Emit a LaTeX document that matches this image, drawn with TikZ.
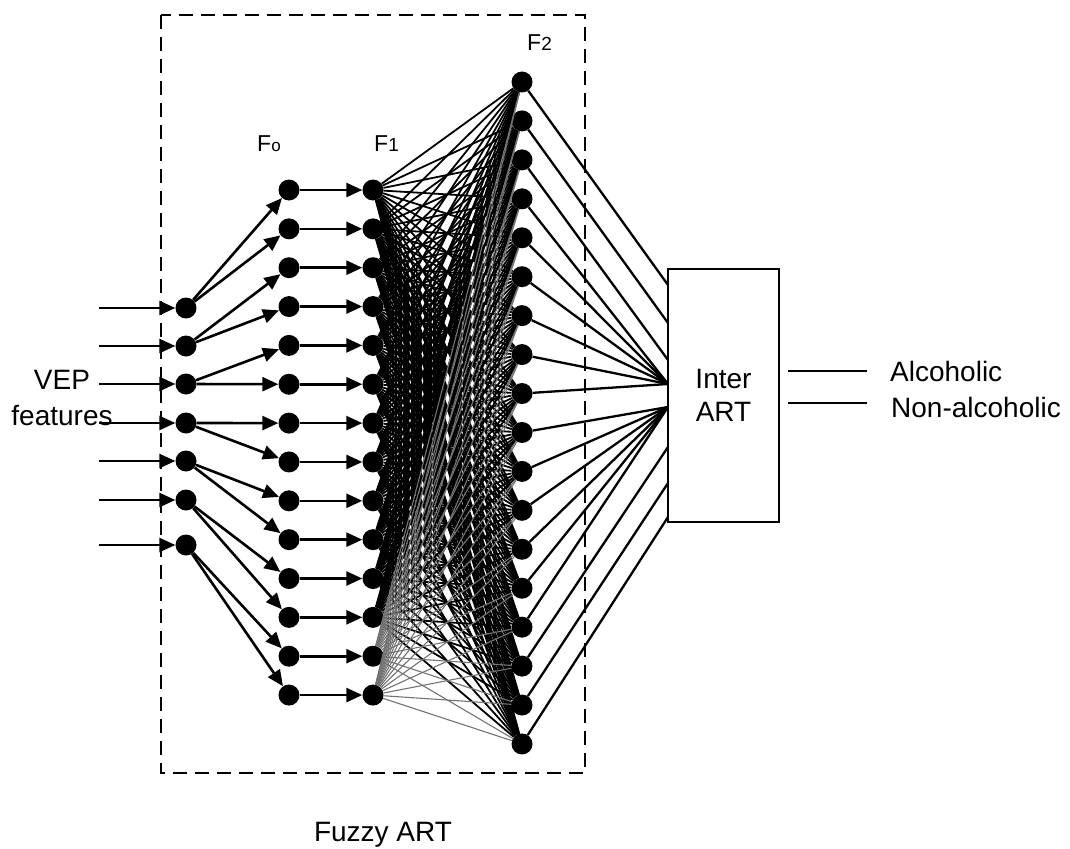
\documentclass[tikz,border=0pt]{standalone}
\usepackage{fontspec}
\setmainfont{Liberation Sans}
\usetikzlibrary{arrows.meta,calc}
\begin{document}
\begin{tikzpicture}[x=1pt,y=-1pt,
 dot/.style={circle,fill=black,draw=none,minimum size=21pt,inner sep=0pt},
 arr/.style={line width=2.6pt,-{Triangle[length=16pt,width=14pt]}},
 wire/.style={line width=1.8pt},
 thinwire/.style={line width=1.1pt,black!55},
 outwire/.style={line width=2.3pt},
 lbl/.style={font=\fontsize{28}{33}\selectfont,inner sep=0pt},
 flbl/.style={font=\fontsize{23}{23}\selectfont,inner sep=0pt,anchor=base west},
]
\useasboundingbox (0,0) rectangle (1070,848);
\draw[line width=2.2pt,dash pattern=on 14pt off 8pt] (161,15) rectangle (585,773);

% input layer
\foreach \y [count=\i] in {308,346,384,423,461,500,545} {
  \node[dot] (I\i) at (186,\y) {};
  \coordinate (S\i) at (99,\y);
}
% F0 and F1
\foreach \i in {1,...,14} {
  \pgfmathsetmacro\yy{190+(\i-1)*38.85}
  \node[dot] (A\i) at (289,\yy) {};
  \node[dot] (B\i) at (373,\yy) {};
}
% F2
\foreach \k in {1,...,18} {
  \pgfmathsetmacro\yy{82+(\k-1)*38.94}
  \node[dot] (C\k) at (522,\yy) {};
}

% connectors
\foreach \i in {1,...,7} \draw[arr] (S\i) -- (I\i);
\foreach \i in {1,...,7} {
  \pgfmathtruncatemacro\a{2*\i-1}
  \pgfmathtruncatemacro\b{2*\i}
  \draw[arr] (I\i) -- (A\a);
  \draw[arr] (I\i) -- (A\b);
}
\foreach \i in {1,...,14} \draw[arr] (A\i) -- (B\i);
\foreach \i in {1,...,12} {\foreach \k in {1,...,18} {\draw[wire] (B\i) -- (C\k);}}
\foreach \i in {13,14} {\foreach \k in {1,...,18} {\draw[thinwire] (B\i) -- (C\k);}}

% Inter ART box
\node[draw,line width=2.6pt,minimum width=111pt,minimum height=253pt,inner sep=0pt,align=center,lbl] (box) at (723.5,395.5) {Inter\\ART};
\foreach \k/\t in {1/285,2/323,3/360,4/384,5/384,6/384,7/384,8/384,9/384,10/407,11/407,12/407,13/407,14/407,15/407,16/447,17/483,18/517} {
  \coordinate (T\k) at (668,\t);
  \draw[outwire] (C\k) -- (T\k);
}

% outputs
\coordinate (o1s) at (788,371);
\coordinate (o1e) at (867,371);
\coordinate (o2s) at (788,403);
\coordinate (o2e) at (867,403);
\draw[outwire] (o1s) -- (o1e);
\draw[outwire] (o2s) -- (o2e);
\node[lbl,anchor=base west] (alc) at (890,381) {Alcoholic};
\node[lbl,anchor=base west] (nalc) at (891,417) {Non-alcoholic};

% labels
\node[lbl,anchor=base] (vep) at (62,389) {VEP};
\node[lbl,anchor=base] (feat) at (62,425) {features};
\node[lbl,anchor=base] (fz) at (383,841) {Fuzzy ART};
\node[flbl] (f0) at (257,151) {F{\fontsize{17}{17}\selectfont o}};
\node[flbl] (f1) at (374,151) {F{\fontsize{19}{19}\selectfont 1}};
\node[flbl] (f2) at (527,51) {F{\fontsize{19}{19}\selectfont 2}};
\end{tikzpicture}
\end{document}
